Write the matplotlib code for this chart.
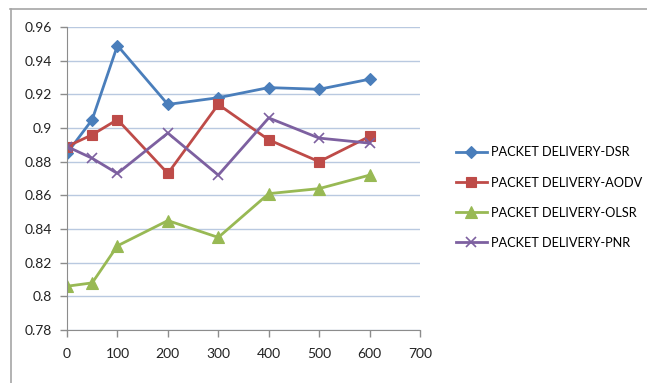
import matplotlib.pyplot as plt
from matplotlib.lines import Line2D

# Packet delivery ratio per protocol vs. x value
x_vals = [0, 50, 100, 200, 300, 400, 500, 600]
dsr = [0.885, 0.905, 0.949, 0.914, 0.918, 0.924, 0.923, 0.929]
aodv = [0.889, 0.896, 0.905, 0.873, 0.914, 0.893, 0.880, 0.895]
olsr = [0.806, 0.808, 0.830, 0.845, 0.835, 0.861, 0.864, 0.872]
pnr = [0.889, 0.882, 0.873, 0.897, 0.872, 0.906, 0.894, 0.891]

labels = ["PACKET DELIVERY-DSR", "PACKET DELIVERY-AODV",
          "PACKET DELIVERY-OLSR", "PACKET DELIVERY-PNR"]
x_ticks = [0, 100, 200, 300, 400, 500, 600, 700]
y_ticks = [0.78, 0.8, 0.82, 0.84, 0.86, 0.88, 0.9, 0.92, 0.94, 0.96]
y_tick_labels = ["0.78", "0.8", "0.82", "0.84", "0.86", "0.88", "0.9", "0.92", "0.94", "0.96"]

plt.rcParams['font.family'] = ['Lato', 'DejaVu Sans']

fig = plt.figure(figsize=(6.47, 3.83), dpi=100)
ax = fig.add_axes([67 / 647, 53 / 383, 353 / 647, 303 / 383])

styles = [
    ("#4A7EBB", "D", 6),
    ("#BE4B48", "s", 7.5),
    ("#98B954", "^", 8),
    ("#7D60A0", "x", 7.5),
]
for series, lab, (col, mk, ms) in zip([dsr, aodv, olsr, pnr], labels, styles):
    ax.plot(x_vals, series, color=col, lw=2, marker=mk, markersize=ms,
            markeredgewidth=1.2 if mk == "x" else 0.8, label=lab)

ax.set_xlim(0, 700)
ax.set_ylim(0.78, 0.96)
ax.set_xticks(x_ticks)
ax.set_yticks(y_ticks)
ax.set_yticklabels(y_tick_labels)
ax.grid(axis='y', color="#B9C9E0", lw=1)
ax.set_axisbelow(True)

for side in ("top", "right"):
    ax.spines[side].set_visible(False)
for side in ("left", "bottom"):
    ax.spines[side].set_color("#8C8C8C")
ax.tick_params(axis='both', colors="#8C8C8C", labelcolor="#222222",
               labelsize=10, length=5, width=1)
ax.tick_params(axis='x', pad=8)
ax.tick_params(axis='y', pad=6)

leg = ax.legend(loc='center left', bbox_to_anchor=(1.068, 0.437), frameon=False,
                fontsize=9.2, handlelength=2.5, labelspacing=1.42, handletextpad=0.25)

# chart frame (top and left edges)
fig.add_artist(Line2D([10 / 647, 1], [1 - 8.5 / 383] * 2, transform=fig.transFigure,
                      color="#A6A6A6", lw=1.2))
fig.add_artist(Line2D([10.5 / 647] * 2, [0, 1 - 8.5 / 383], transform=fig.transFigure,
                      color="#A6A6A6", lw=1.2))

fig.savefig("out.png", dpi=100)
